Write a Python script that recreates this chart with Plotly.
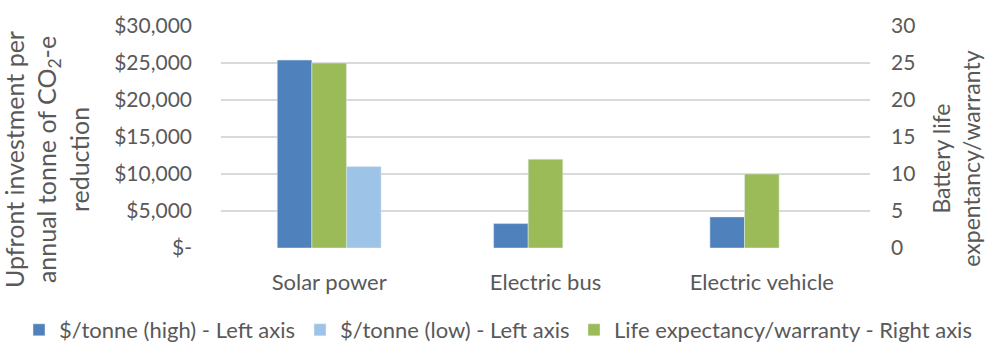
import plotly.graph_objects as go

# Categories and series values
categories = ["Solar power", "Electric bus", "Electric vehicle"]
cost_high = [25400, 3300, 4200]       # $/tonne (high) - left axis
cost_low = [11000, None, None]        # $/tonne (low) - left axis
life_years = [25, 12, 10]             # life expectancy/warranty - right axis

left_tickvals = [0, 5000, 10000, 15000, 20000, 25000, 30000]
left_ticktext = ["$-", "$5,000", "$10,000", "$15,000", "$20,000", "$25,000", "$30,000"]
right_tickvals = [0, 5, 10, 15, 20, 25, 30]

FONT = "Lato"
TXT = "#595959"
BAR_W = 0.16

fig = go.Figure()
fig.add_trace(go.Bar(
    x=categories, y=cost_high, name="$/tonne (high) - Left axis",
    marker=dict(color="#4F81BD"), width=BAR_W, offset=-1.5 * BAR_W,
    yaxis="y", legend="legend",
))
fig.add_trace(go.Bar(
    x=categories, y=cost_low, name="$/tonne (low) - Left axis",
    marker=dict(color="#9DC3E6"), width=BAR_W, offset=0.5 * BAR_W,
    yaxis="y", legend="legend2",
))
fig.add_trace(go.Bar(
    x=categories, y=life_years, name="Life expectancy/warranty - Right axis",
    marker=dict(color="#9BBB59"), width=BAR_W, offset=-0.5 * BAR_W,
    yaxis="y2", legend="legend3",
))


def legend_box(text_left):
    # one legend entry per box, placed along a single row under the plot
    return dict(
        orientation="h", x=(text_left - 42) / 990, xref="container", xanchor="left",
        y=14 / 344, yref="container", yanchor="middle",
        font=dict(size=22, color=TXT), borderwidth=0, itemwidth=30,
        bgcolor="rgba(0,0,0,0)",
    )


fig.update_layout(
    width=990, height=344,
    margin=dict(l=221, r=120, t=26, b=96, autoexpand=False),
    paper_bgcolor="white", plot_bgcolor="white",
    font=dict(family=FONT, size=21, color=TXT),
    barmode="overlay",
    showlegend=True,
    legend=legend_box(61),
    legend2=legend_box(342),
    legend3=legend_box(616),
    xaxis=dict(
        showgrid=False, showline=False, ticks="",
        tickfont=dict(size=22, color=TXT), ticklabelstandoff=19,
    ),
    yaxis=dict(
        range=[0, 30000], tickvals=left_tickvals, ticktext=left_ticktext,
        showgrid=True, gridcolor="#D9D9D9", gridwidth=1.5,
        zeroline=False, showline=False, ticks="",
        tickfont=dict(size=21, color=TXT), ticklabelstandoff=28,
    ),
    yaxis2=dict(
        range=[0, 30], tickvals=right_tickvals, overlaying="y", side="right",
        showgrid=False, zeroline=False, showline=False, ticks="",
        tickfont=dict(size=21, color=TXT), ticklabelstandoff=20,
    ),
    annotations=[
        dict(
            text="Upfront investment per<br>annual tonne of CO<sub>2</sub>-e<br>reduction",
            xref="paper", yref="paper", x=-0.27, y=0.40,
            xanchor="center", yanchor="middle", textangle=-90, showarrow=False,
            font=dict(size=25, color=TXT),
        ),
        dict(
            text="Battery life<br>expentancy/warranty",
            xref="paper", yref="paper", x=1.133, y=0.404,
            xanchor="center", yanchor="middle", textangle=-90, showarrow=False,
            font=dict(size=23, color=TXT),
        ),
    ],
)

fig.write_html("out.html")
